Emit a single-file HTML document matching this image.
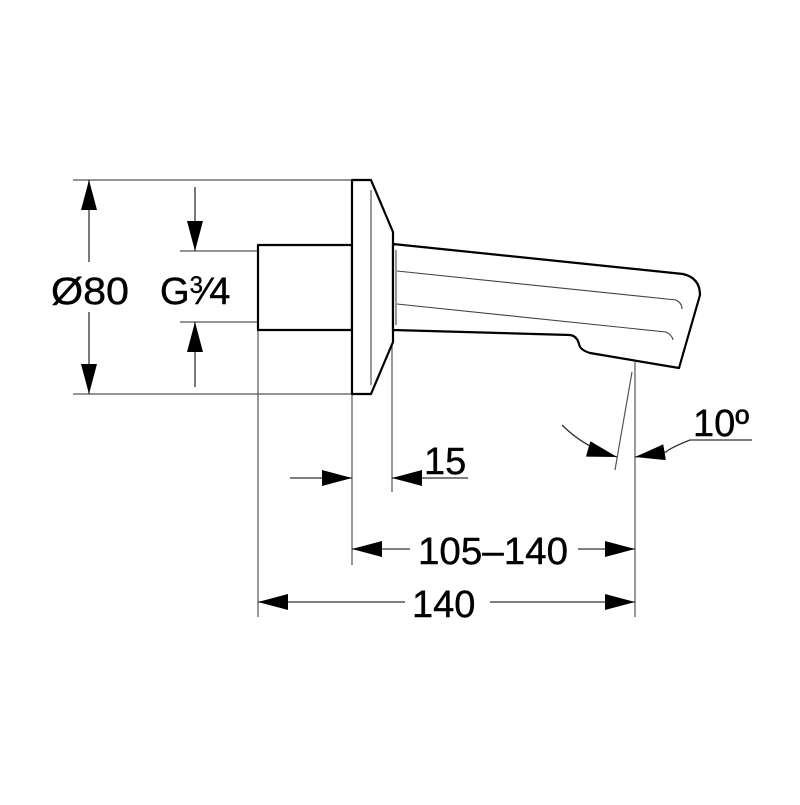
<!DOCTYPE html>
<html><head><style>body{margin:0;background:#fff}</style></head><body>
<svg width="800" height="800" viewBox="0 0 800 800" xmlns="http://www.w3.org/2000/svg" font-family="Liberation Sans, sans-serif">
<defs>
<marker id="a" viewBox="0 0 30 16" refX="30" refY="8" markerWidth="30" markerHeight="16" markerUnits="userSpaceOnUse" orient="auto"><path d="M0,0L30,8L0,16Z" fill="#000"/></marker>
</defs>
<g stroke="#555" stroke-width="1.2" fill="none">
<line x1="73" y1="180" x2="352" y2="180"/>
<line x1="73" y1="394" x2="352" y2="394"/>
<line x1="180" y1="251" x2="258" y2="251"/>
<line x1="180" y1="322" x2="258" y2="322"/>
<line x1="258" y1="330" x2="258" y2="617"/>
<line x1="352" y1="394" x2="352" y2="565"/>
<line x1="392" y1="342" x2="392" y2="492"/>
<line x1="635" y1="362" x2="635" y2="617"/>
<line x1="632" y1="372" x2="615" y2="470"/>
</g>
<g stroke="#333" stroke-width="1.3" fill="none">
<line x1="89" y1="262" x2="89" y2="180" marker-end="url(#a)"/>
<line x1="89" y1="312" x2="89" y2="394" marker-end="url(#a)"/>
<line x1="195" y1="187" x2="195" y2="251" marker-end="url(#a)"/>
<line x1="195" y1="387" x2="195" y2="322" marker-end="url(#a)"/>
<line x1="290" y1="478" x2="352" y2="478" marker-end="url(#a)"/>
<line x1="468" y1="478" x2="392" y2="478" marker-end="url(#a)"/>
<line x1="410" y1="549" x2="352" y2="549" marker-end="url(#a)"/>
<line x1="578" y1="549" x2="635" y2="549" marker-end="url(#a)"/>
<line x1="405" y1="602" x2="258" y2="602" marker-end="url(#a)"/>
<line x1="490" y1="602" x2="635" y2="602" marker-end="url(#a)"/>
<path d="M562,425 Q585,448 617,457" marker-end="url(#a)"/>
<path d="M752,440 L690,440 Q670,448 666,452 L635,457" marker-end="url(#a)"/>
</g>
<g stroke="#000" stroke-width="2.2" fill="#fff" stroke-linejoin="round">
<rect x="258" y="245" width="94" height="85"/>
<path d="M352,180 L371,180 L393,232 L393,342 L371,394 L352,394 Z"/>
<path d="M393,244 L683,274 Q700,278 700,295 L679,368 L590,353 Q580,350 579,344 Q577,336 570,335 L393,330 Z"/>
</g>
<g stroke="#444" stroke-width="1.1" fill="none">
<line x1="371" y1="190" x2="371" y2="385"/>
<line x1="396" y1="250" x2="396" y2="325"/>
<path d="M397,271 L676,300 Q682,303 682,309"/>
<path d="M397,304 L666,332 Q672,335 673,340"/>
</g>
<g font-size="38" fill="#000" stroke="#000" stroke-width="0.4">
<text x="51" y="304" textLength="78" lengthAdjust="spacingAndGlyphs">Ø80</text>
<text x="160" y="304">G<tspan font-size="24" dy="-11">3</tspan><tspan dy="11">⁄4</tspan></text>
<text x="424" y="474">15</text>
<text x="418" y="564" textLength="150" lengthAdjust="spacingAndGlyphs">105–140</text>
<text x="412" y="617">140</text>
<text x="693" y="436">10º</text>
</g>
</svg>
</body></html>
